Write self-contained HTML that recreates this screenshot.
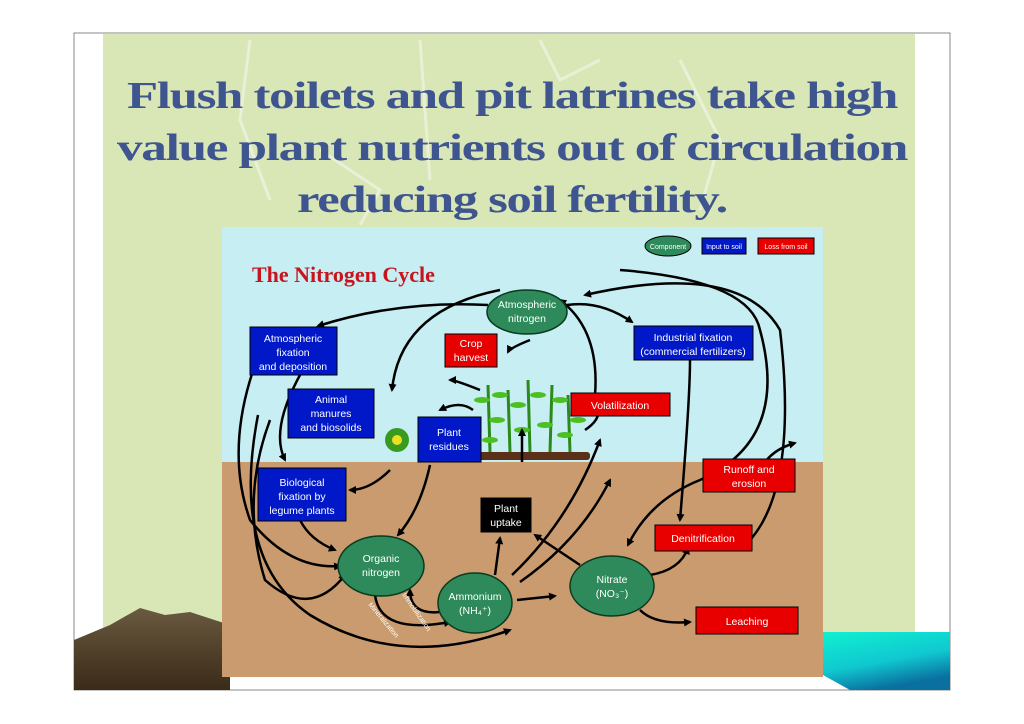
<!DOCTYPE html>
<html><head><meta charset="utf-8"><style>
body{margin:0;background:#fff;width:1024px;height:724px;overflow:hidden}
svg{display:block}
</style></head><body>
<svg width="1024" height="724" viewBox="0 0 1024 724" xmlns="http://www.w3.org/2000/svg" font-family="Liberation Sans, sans-serif">
<defs>
<linearGradient id="tg" x1="0" y1="0" x2="0.4" y2="1"><stop offset="0" stop-color="#10f0d0"/><stop offset="0.6" stop-color="#10c8d0"/><stop offset="1" stop-color="#0a70a0"/></linearGradient>
<linearGradient id="mg" x1="0" y1="0" x2="0" y2="1"><stop offset="0" stop-color="#6a5a40"/><stop offset="1" stop-color="#3a2a18"/></linearGradient>
<marker id="a" markerWidth="8" markerHeight="8" refX="6" refY="4" orient="auto" markerUnits="userSpaceOnUse"><path d="M0,0 L8,4 L0,8 z" fill="#000"/></marker>
</defs>
<rect x="74" y="33" width="876" height="657" fill="#fff" stroke="#888"/>
<rect x="103" y="34" width="812" height="606" fill="#d9e7b6"/>
<g stroke="#eef3e0" stroke-width="3" fill="none" opacity="0.8">
<path d="M250 40 L240 120 L270 200"/><path d="M420 40 L430 180"/><path d="M540 40 L560 80 L600 60"/><path d="M680 60 L720 140 L700 210"/><path d="M320 150 L380 190 L360 225"/>
</g>
<polygon points="74,640 110,625 140,608 165,615 190,612 230,625 230,690 74,690" fill="url(#mg)"/>
<polygon points="823,632 950,632 950,690 850,690 823,675" fill="url(#tg)"/>
<g fill="#3f5590" font-family="Liberation Serif, serif" font-weight="bold" font-size="38" text-anchor="middle" letter-spacing="-1">
<text x="512" y="108" textLength="770" lengthAdjust="spacingAndGlyphs">Flush toilets and pit latrines take high</text>
<text x="512" y="160" textLength="790" lengthAdjust="spacingAndGlyphs">value plant nutrients out of circulation</text>
<text x="512" y="212" textLength="430" lengthAdjust="spacingAndGlyphs">reducing soil fertility.</text>
</g>
<rect x="222" y="227" width="601" height="236" fill="#c6eef3"/>
<rect x="222" y="462" width="601" height="215" fill="#c99b6e"/>
<text x="252" y="282" font-family="Liberation Serif, serif" font-weight="bold" font-size="22" fill="#c8141e">The Nitrogen Cycle</text>
<!-- legend -->
<ellipse cx="668" cy="246" rx="23" ry="10" fill="#2e8a5a" stroke="#000"/><text x="668" y="249" font-size="7" fill="#fff" text-anchor="middle">Component</text>
<rect x="702" y="238" width="44" height="16" fill="#0018c8" stroke="#000"/><text x="724" y="249" font-size="7" fill="#fff" text-anchor="middle">Input to soil</text>
<rect x="758" y="238" width="56" height="16" fill="#e80000" stroke="#000"/><text x="786" y="249" font-size="7" fill="#fff" text-anchor="middle">Loss from soil</text>
<!-- plants -->
<rect x="478" y="452" width="112" height="8" fill="#5a3018" rx="3"/>
<g stroke="#2a8a1a" stroke-width="3" fill="none"><path d="M490 452 L488 385"/><path d="M510 452 L508 390"/><path d="M530 452 L528 380"/><path d="M550 452 L552 385"/><path d="M570 452 L568 395"/></g>
<g fill="#4cc020"><ellipse cx="482" cy="400" rx="8" ry="3"/><ellipse cx="497" cy="420" rx="8" ry="3"/><ellipse cx="518" cy="405" rx="8" ry="3"/><ellipse cx="500" cy="395" rx="8" ry="3"/><ellipse cx="538" cy="395" rx="8" ry="3"/><ellipse cx="522" cy="430" rx="8" ry="3"/><ellipse cx="560" cy="400" rx="8" ry="3"/><ellipse cx="545" cy="425" rx="8" ry="3"/><ellipse cx="578" cy="420" rx="8" ry="3"/><ellipse cx="565" cy="435" rx="8" ry="3"/><ellipse cx="490" cy="440" rx="8" ry="3"/></g>
<circle cx="397" cy="440" r="12" fill="#3a9a20"/><circle cx="397" cy="440" r="5" fill="#e8e020"/>
<!-- arrows -->
<g stroke="#000" stroke-width="2.5" fill="none" marker-end="url(#a)">
<path d="M488 305 Q400 300 318 326"/>
<path d="M567 305 Q600 300 632 322"/>
<path d="M690 360 Q690 400 680 520"/>
<path d="M740 550 Q800 500 780 330 Q740 260 585 295"/>
<path d="M760 470 Q770 450 795 443"/>
<path d="M500 290 Q400 310 392 390"/>
<path d="M530 340 Q510 348 508 352"/>
<path d="M595 395 Q600 330 560 300"/>
<path d="M620 270 Q750 280 760 330 Q790 440 700 480 Q650 500 628 545"/>
<path d="M300 375 Q270 430 285 460"/>
<path d="M255 365 Q225 450 250 520 Q290 570 340 566"/>
<path d="M270 420 Q240 500 265 580 Q310 620 345 575"/>
<path d="M430 465 Q420 510 398 535"/>
<path d="M300 520 Q310 540 335 550"/>
<path d="M390 470 Q370 490 350 490"/>
<path d="M258 415 Q230 560 310 615 Q400 670 510 630"/>
<path d="M375 595 Q380 635 450 622"/>
<path d="M440 612 Q410 615 410 590"/>
<path d="M495 575 L500 538"/>
<path d="M512 575 Q570 520 600 440"/>
<path d="M520 582 Q580 540 610 480"/>
<path d="M580 565 L535 535"/>
<path d="M517 600 L555 596"/>
<path d="M650 575 Q680 570 688 548"/>
<path d="M640 610 Q655 625 690 622"/>
<path d="M522 462 L522 430"/>
<path d="M473 410 Q460 400 440 410"/>
<path d="M585 430 Q600 420 598 410"/>
<path d="M480 390 Q455 380 450 380"/>
</g>
<!-- boxes -->
<g stroke="#000" stroke-width="1">
<rect x="250" y="327" width="87" height="48" fill="#0018c8"/>
<rect x="634" y="326" width="119" height="34" fill="#0018c8"/>
<rect x="288" y="389" width="86" height="49" fill="#0018c8"/>
<rect x="418" y="417" width="63" height="45" fill="#0018c8"/>
<rect x="258" y="468" width="88" height="53" fill="#0018c8"/>
<rect x="481" y="498" width="50" height="34" fill="#000"/>
<rect x="445" y="334" width="52" height="33" fill="#e80000"/>
<rect x="571" y="393" width="99" height="23" fill="#e80000"/>
<rect x="703" y="459" width="92" height="33" fill="#e80000"/>
<rect x="655" y="525" width="97" height="26" fill="#e80000"/>
<rect x="696" y="607" width="102" height="27" fill="#e80000"/>
</g>
<g fill="#2e8a5a" stroke="#0a3a20" stroke-width="1.5">
<ellipse cx="527" cy="312" rx="40" ry="22"/>
<ellipse cx="381" cy="566" rx="43" ry="30"/>
<ellipse cx="475" cy="603" rx="37" ry="30"/>
<ellipse cx="612" cy="586" rx="42" ry="30"/>
</g>
<g fill="#fff" font-size="10.5" text-anchor="middle">
<text x="527" y="308">Atmospheric</text><text x="527" y="322">nitrogen</text>
<text x="381" y="562">Organic</text><text x="381" y="576">nitrogen</text>
<text x="475" y="600">Ammonium</text><text x="475" y="614">(NH₄⁺)</text>
<text x="612" y="583">Nitrate</text><text x="612" y="597">(NO₃⁻)</text>
<text x="293" y="342">Atmospheric</text><text x="293" y="356">fixation</text><text x="293" y="370">and deposition</text>
<text x="693" y="341">Industrial fixation</text><text x="693" y="355">(commercial fertilizers)</text>
<text x="331" y="403">Animal</text><text x="331" y="417">manures</text><text x="331" y="431">and biosolids</text>
<text x="449" y="436">Plant</text><text x="449" y="450">residues</text>
<text x="302" y="486">Biological</text><text x="302" y="500">fixation by</text><text x="302" y="514">legume plants</text>
<text x="506" y="512">Plant</text><text x="506" y="526">uptake</text>
<text x="471" y="347">Crop</text><text x="471" y="361">harvest</text>
<text x="620" y="409">Volatilization</text>
<text x="749" y="473">Runoff and</text><text x="749" y="487">erosion</text>
<text x="703" y="542">Denitrification</text>
<text x="747" y="625">Leaching</text>
</g>
<g fill="#fff" font-size="7">
<text transform="translate(402,595) rotate(55)">Immobilization</text>
<text transform="translate(368,605) rotate(50)">Mineralization</text>
</g>
</svg>
</body></html>
